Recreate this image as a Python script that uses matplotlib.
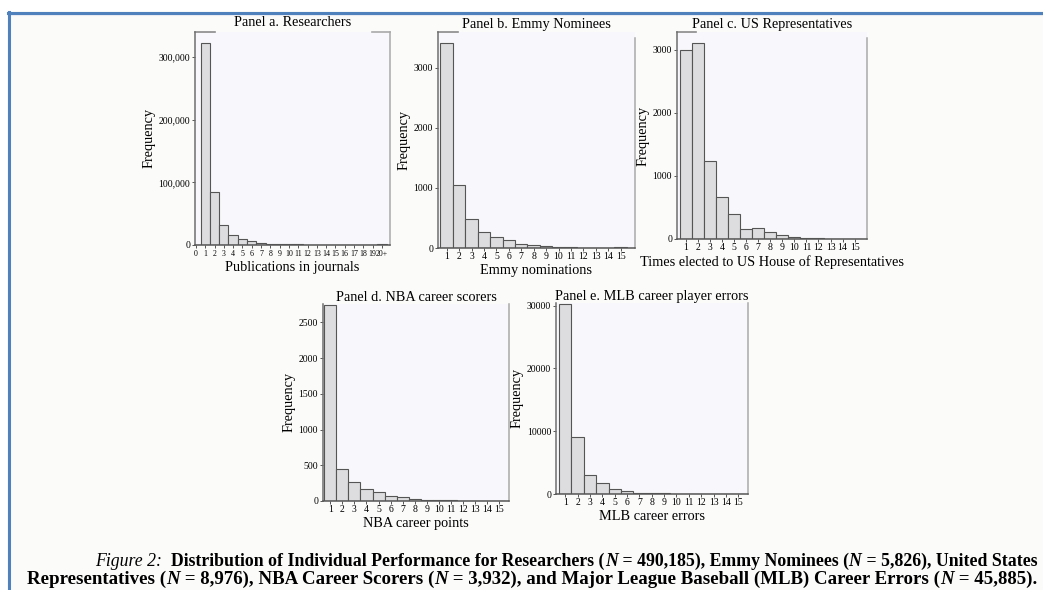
import matplotlib
matplotlib.use("Agg")
import matplotlib.pyplot as plt
from matplotlib.lines import Line2D
from matplotlib.ticker import FuncFormatter

# ---------------- data ----------------
cats_a = [str(i) for i in range(20)] + ["20+"]
researchers = [0, 321700, 85000, 32000, 16400, 9600, 5900, 3500, 2200, 1500,
               1000, 800, 600, 500, 400, 350, 300, 250, 200, 150, 1800]
cats_15 = list(range(1, 16))
emmy = [3403, 1040, 487, 260, 183, 127, 61, 55, 39, 22, 11, 6, 6, 3, 22]
reps = [2995, 3117, 1241, 660, 401, 158, 174, 106, 63, 32, 11, 16, 5, 2, 2]
nba = [2743, 452, 266, 168, 126, 70, 51, 33, 19, 14, 14, 5, 3, 2, 1]
mlb = [30270, 9081, 3080, 1700, 797, 425, 212, 160, 106, 53, 30, 20, 15, 10, 10]

titles = ["Panel a. Researchers", "Panel b. Emmy Nominees", "Panel c. US Representatives",
          "Panel d. NBA career scorers", "Panel e. MLB career player errors"]
xlabels = ["Publications in journals", "Emmy nominations",
           "Times elected to US House of Representatives",
           "NBA career points", "MLB career errors"]

W, H = 1043, 590
DPI = 100
SERIF = "Liberation Serif"
plt.rcParams["font.family"] = SERIF

fig = plt.figure(figsize=(W / DPI, H / DPI), dpi=DPI)
fig.patch.set_facecolor("#fbfcfa")

# white outside the blue frame + blue frame lines
fig.add_artist(plt.Rectangle((0, 1 - 11 / H), 1, 11 / H, transform=fig.transFigure,
                             facecolor="white", edgecolor="none", zorder=-2))
fig.add_artist(plt.Rectangle((0, 0), 7 / W, 1, transform=fig.transFigure,
                             facecolor="white", edgecolor="none", zorder=-2))
fig.add_artist(Line2D([8 / W, 1], [1 - 14.5 / H] * 2, transform=fig.transFigure,
                      color="#eceef3", lw=1.0, zorder=-1))
fig.add_artist(Line2D([8 / W, 1], [1 - 12.5 / H] * 2, transform=fig.transFigure,
                      color="#4f81bd", lw=2.2, zorder=5))
fig.add_artist(Line2D([8.5 / W] * 2, [0, 1 - 11.5 / H], transform=fig.transFigure,
                      color="#4f81bd", lw=2.2, zorder=5))


def px_axes(l, r, t, b):
    return fig.add_axes([l / W, 1 - b / H, (r - l) / W, (b - t) / H])


TICK_FS = 7.0
LAB_FS = 10.3


def style(ax, title, xlabel, stub_left=True, stub_right=False, right_from=1.0, tpad=4):
    ax.set_facecolor("#f8f8fc")
    ax.spines["top"].set_visible(False)
    ax.spines["left"].set_color("#6e6e6e")
    ax.spines["bottom"].set_color("#555555")
    ax.spines["right"].set_color("#a9a9a9")
    for s in ax.spines.values():
        s.set_linewidth(1.1)
    lo, hi = ax.get_ylim()
    ax.spines["right"].set_bounds(lo, lo + (hi - lo) * right_from)
    ax.tick_params(axis="both", labelsize=TICK_FS, length=2.5, width=0.7,
                   color="#555555", pad=1)
    ax.tick_params(axis="x", length=2)
    ax.set_title(title, fontsize=LAB_FS, pad=tpad)
    ax.set_xlabel(xlabel, fontsize=LAB_FS, labelpad=2)
    ax.set_ylabel("Frequency", fontsize=LAB_FS, labelpad=2)
    if stub_left:
        ax.plot([0, 0.1], [1, 1], transform=ax.transAxes, color="#8a8a8a",
                lw=1.2, clip_on=False)
    if stub_right:
        ax.plot([0.91, 1], [1, 1], transform=ax.transAxes, color="#a9a9a9",
                lw=1.2, clip_on=False)


BAR_KW = dict(width=1.0, color="#dddde0", edgecolor="#555555", linewidth=0.8)

# Panel a
ax = px_axes(195, 390, 32, 245)
xa = list(range(len(cats_a)))
ax.bar(xa, researchers, **BAR_KW)
ax.set_xlim(-0.1, 20.86)
ax.set_ylim(0, 339700)
ax.set_xticks(xa)
ax.set_xticklabels(cats_a)
ax.set_yticks([0, 100000, 200000, 300000])
ax.yaxis.set_major_formatter(FuncFormatter(lambda v, p: f"{int(v):,}"))
style(ax, titles[0], xlabels[0], stub_left=True, stub_right=True)
ax.tick_params(axis="x", labelsize=5.7, pad=1.5)

# Panel b
ax = px_axes(438, 635, 32, 248)
ax.bar(cats_15, emmy, **BAR_KW)
ax.set_xlim(0.3, 16.15)
ax.set_ylim(0, 3593)
ax.set_xticks(cats_15)
ax.set_yticks([0, 1000, 2000, 3000])
style(ax, titles[1], xlabels[1], right_from=0.97, tpad=3)

# Panel c
ax = px_axes(677, 867, 32, 239)
ax.bar(cats_15, reps, **BAR_KW)
ax.set_xlim(0.25, 16.03)
ax.set_ylim(0, 3285)
ax.set_xticks(cats_15)
ax.set_yticks([0, 1000, 2000, 3000])
style(ax, titles[2], xlabels[2], right_from=0.97, tpad=3)

# Panel d
ax = px_axes(323, 509, 304, 501)
ax.bar(cats_15, nba, **BAR_KW)
ax.set_xlim(0.4, 15.8)
ax.set_ylim(0, 2757)
ax.set_xticks(cats_15)
ax.set_yticks([0, 500, 1000, 1500, 2000, 2500])
style(ax, titles[3], xlabels[3], stub_left=False, tpad=2)

# Panel e
ax = px_axes(556, 748, 303, 494)
ax.bar(cats_15, mlb, **BAR_KW)
ax.set_xlim(0.25, 15.79)
ax.set_ylim(0, 30430)
ax.set_xticks(cats_15)
ax.set_yticks([0, 10000, 20000, 30000])
style(ax, titles[4], xlabels[4], stub_left=False, tpad=2)

# ---------------- caption (mixed styles) ----------------
IT = dict(style="italic", weight="normal")
BD = dict(style="normal", weight="bold")
BI = dict(style="italic", weight="bold")
line1 = [("Figure 2:", IT), ("  Distribution of Individual Performance for Researchers (", BD),
         ("N", BI), (" = 490,185), Emmy Nominees (", BD), ("N", BI),
         (" = 5,826), United States", BD)]
line2 = [("Representatives (", BD), ("N", BI), (" = 8,976), NBA Career Scorers (", BD),
         ("N", BI), (" = 3,932), and Major League Baseball (MLB) Career Errors (", BD),
         ("N", BI), (" = 45,885).", BD)]

fig.canvas.draw()
renderer = fig.canvas.get_renderer()


def advance(s, props, fs):
    t1 = fig.text(0, 0, "|" + s + "|", fontsize=fs, **props)
    t2 = fig.text(0, 0, "||", fontsize=fs, **props)
    w = t1.get_window_extent(renderer).width - t2.get_window_extent(renderer).width
    t1.remove(); t2.remove()
    return w


def line_width(pieces, fs):
    return sum(advance(s, p, fs) for s, p in pieces)


def draw_line(pieces, left_px, right_px, base_px):
    base_fs = 11.0
    fs = base_fs * (right_px - left_px) / line_width(pieces, base_fs)
    widths = [advance(s, p, fs) for s, p in pieces]
    x = right_px - sum(widths)
    for (s, p), w in zip(pieces, widths):
        fig.text(x / W, 1 - base_px / H, s, fontsize=fs, ha="left", va="baseline", **p)
        x += w


draw_line(line1, 100, 1037, 566)
draw_line(line2, 25, 1037, 584)

fig.savefig("out.png", dpi=DPI, facecolor=fig.get_facecolor())
